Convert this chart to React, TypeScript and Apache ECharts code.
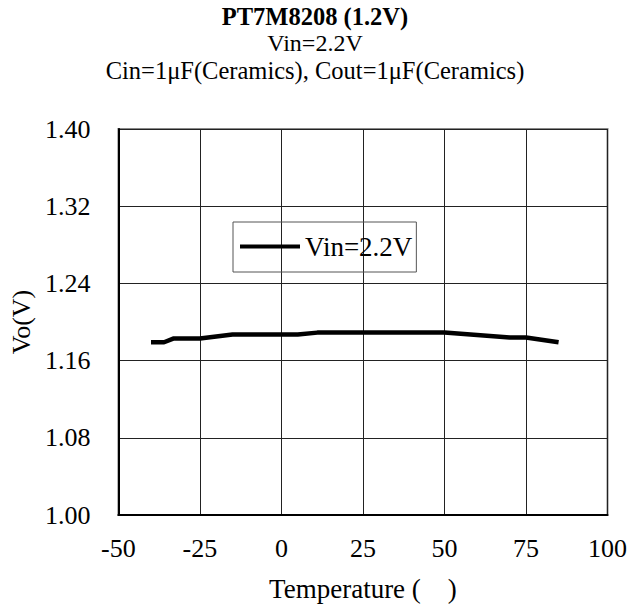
import React, { useEffect, useRef } from "react";
import * as echarts from "echarts";

const TITLE = "PT7M8208 (1.2V)";
const SUBTITLE_LINES = ["Vin=2.2V", "Cin=1μF(Ceramics), Cout=1μF(Ceramics)"];
const SERIES_NAME = "Vin=2.2V";
const temperatures = [-40, -36, -33, -25, -15, 5, 11, 50, 70, 75, 85];
const vout = [1.179, 1.179, 1.183, 1.183, 1.187, 1.187, 1.189, 1.189, 1.184, 1.184, 1.179];
const Y_BASE = 1.0;
const Y_MAX = 1.4;
const Y_STEP = 0.08;
const X_MIN = -50;
const X_MAX = 100;
const X_STEP = 25;
const X_NAME = "Temperature (    )";
const Y_NAME = "Vo(V)";

const FONT = "Liberation Serif";

export default function App() {
  const ref = useRef<HTMLDivElement>(null);
  useEffect(() => {
    if (!ref.current) return;
    const chart = echarts.init(ref.current, null, { renderer: "svg" });
    const data = temperatures.map((t, i) => [t, +(vout[i] - Y_BASE).toFixed(4)]);
    const titleCenters = [16, 43, 70];
    const titleSizes = [24.5, 24, 24.5];
    chart.setOption({
      animation: false,
      backgroundColor: "#ffffff",
      title: [TITLE, ...SUBTITLE_LINES].map((txt, i) => ({
        text: txt,
        left: "center",
        top: titleCenters[i] - titleSizes[i] / 2,
        padding: 0,
        textStyle: {
          fontFamily: FONT,
          fontSize: titleSizes[i],
          fontWeight: i === 0 ? "bold" : "normal",
          color: "#000",
          lineHeight: titleSizes[i],
        },
      })),
      legend: {
        left: 233,
        top: 222,
        padding: [11, 4, 12, 7],
        borderColor: "#555",
        borderWidth: 1,
        itemWidth: 60,
        itemHeight: 20,
        itemGap: 0,
        textStyle: { fontFamily: FONT, fontSize: 27, color: "#000" },
        data: [{ name: SERIES_NAME, icon: "path://M0,8 L60,8 L60,12 L0,12 Z" }],
      },
      grid: {
        left: 118,
        right: 22,
        top: 129,
        bottom: 91,
        show: true,
        borderColor: "#888",
        borderWidth: 2,
      },
      xAxis: {
        type: "value",
        min: X_MIN,
        max: X_MAX,
        interval: X_STEP,
        name: X_NAME,
        nameLocation: "middle",
        nameGap: 60,
        nameTextStyle: { fontFamily: FONT, fontSize: 27, color: "#000" },
        axisLine: { show: true, onZero: false, lineStyle: { color: "#000", width: 2 } },
        axisTick: { show: false },
        axisLabel: { fontFamily: FONT, fontSize: 26, color: "#000", margin: 20 },
        splitLine: { show: true, lineStyle: { color: "#222", width: 1 } },
      },
      yAxis: {
        type: "value",
        min: 0,
        max: +(Y_MAX - Y_BASE).toFixed(2),
        interval: Y_STEP,
        name: Y_NAME,
        nameLocation: "middle",
        nameGap: 83,
        nameTextStyle: { fontFamily: FONT, fontSize: 26, color: "#000" },
        axisLine: { show: true, onZero: false, lineStyle: { color: "#000", width: 2 } },
        axisTick: { show: false },
        axisLabel: {
          fontFamily: FONT,
          fontSize: 26,
          color: "#000",
          margin: 28,
          formatter: (v: number) => (v + Y_BASE).toFixed(2),
        },
        splitLine: { show: true, lineStyle: { color: "#222", width: 1 } },
      },
      series: [
        {
          name: SERIES_NAME,
          type: "line",
          data,
          symbol: "none",
          lineStyle: { color: "#000", width: 4.5 },
          itemStyle: { color: "#000" },
        },
      ],
    });
    return () => chart.dispose();
  }, []);
  return (
    <div
      ref={ref}
      style={{ position: "fixed", left: 0, top: 0, width: 630, height: 607, background: "#fff" }}
    />
  );
}
